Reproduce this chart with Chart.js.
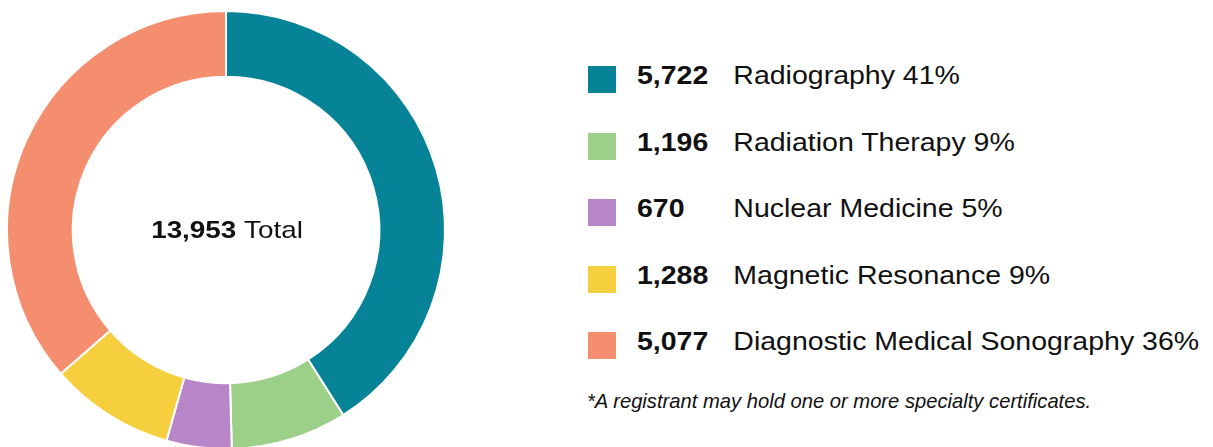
<!DOCTYPE html>
<html>
<head>
<meta charset="utf-8">
<script src="https://cdn.jsdelivr.net/npm/chart.js@4.4.0/dist/chart.umd.min.js"></script>
<style>
  html, body { margin: 0; padding: 0; background: #fff; overflow: hidden; }
  body { width: 1213px; height: 447px; position: relative; font-family: "Liberation Sans", Arial, sans-serif; color: #111; }
  #donut { position: absolute; left: 0; top: 0; }
  .row { position: absolute; left: 588px; height: 28px; }
  .sw { position: absolute; left: 0; top: 0; width: 28px; height: 27px; }
  .txt { position: absolute; left: 49px; top: -6px; font-size: 25px; line-height: 30px; white-space: nowrap; transform: scaleX(1.14); transform-origin: left center; }
  .num { font-weight: bold; display: inline-block; width: 84.5px; }
  #note { position: absolute; left: 587px; top: 390px; font-size: 20.2px; font-style: italic; white-space: nowrap; color: #111; }
</style>
</head>
<body>
<canvas id="donut" width="452" height="460"></canvas>
<div id="legend"></div>
<div id="note">*A registrant may hold one or more specialty certificates.</div>
<script>
var labels = ['Radiography', 'Radiation Therapy', 'Nuclear Medicine', 'Magnetic Resonance', 'Diagnostic Medical Sonography'];
var counts = [5722, 1196, 670, 1288, 5077];
var percents = [41, 9, 5, 9, 36];
var colors = ['#078397', '#9ccf87', '#b886c8', '#f6cf3f', '#f58e6f'];
var totalLabel = '13,953';

// legend rows
var legend = document.getElementById('legend');
labels.forEach(function (name, i) {
    var row = document.createElement('div');
    row.className = 'row';
    row.style.top = (66 + i * 66.6) + 'px';
    row.innerHTML = '<div class="sw" style="background:' + colors[i] + '"></div>' +
        '<div class="txt"><span class="num">' + counts[i].toLocaleString('en-US') + '</span>' +
        name + ' ' + percents[i] + '%</div>';
    legend.appendChild(row);
});

// text in the hole
var centerText = {
    id: 'centerText',
    afterDraw: function (chart) {
        var arc = chart.getDatasetMeta(0).data[0];
        var ctx = chart.ctx;
        ctx.save();
        ctx.translate(arc.x + 1, arc.y);
        ctx.scale(1.16, 1);
        ctx.textBaseline = 'middle';
        ctx.fillStyle = '#111';
        ctx.font = 'bold 24px "Liberation Sans", Arial, sans-serif';
        var a = totalLabel + ' ';
        var wa = ctx.measureText(a).width;
        ctx.font = '24px "Liberation Sans", Arial, sans-serif';
        var wb = ctx.measureText('Total').width;
        var x0 = -(wa + wb) / 2;
        ctx.font = 'bold 24px "Liberation Sans", Arial, sans-serif';
        ctx.textAlign = 'left';
        ctx.fillText(a, x0, 1);
        ctx.font = '24px "Liberation Sans", Arial, sans-serif';
        ctx.fillText('Total', x0 + wa, 1);
        ctx.restore();
    }
};

new Chart(document.getElementById('donut').getContext('2d'), {
    type: 'doughnut',
    data: {
        labels: labels,
        datasets: [{
            data: counts,
            backgroundColor: colors,
            borderColor: '#ffffff',
            borderWidth: 2,
            hoverOffset: 0
        }]
    },
    options: {
        responsive: false,
        animation: false,
        cutout: '70%',
        layout: { padding: { left: 6, right: 6, top: 10, bottom: 10 } },
        plugins: {
            legend: { display: false },
            tooltip: { enabled: false }
        }
    },
    plugins: [centerText]
});
</script>
</body>
</html>
